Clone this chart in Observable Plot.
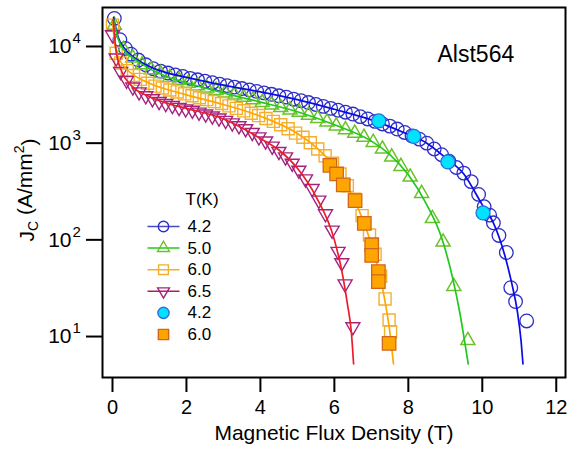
<!DOCTYPE html>
<html>
<head>
<meta charset="utf-8">
<script src="https://cdn.jsdelivr.net/npm/d3@7"></script>
<script src="https://cdn.jsdelivr.net/npm/@observablehq/plot@0.6"></script>
<style>
  html, body { margin: 0; padding: 0; background: white; }
  #chart { width: 567px; height: 449px; }
</style>
</head>
<body>
<div id="chart"></div>
<script>
// ---------- data (B in tesla, Jc in A/mm^2) ----------
// 4.2 K open circles
const b42 = [0.05,0.2,0.35,0.5,0.7,0.9,1.1,1.3,1.5,1.7,1.9,2.1,2.3,2.5,2.7,2.9,3.1,3.3,3.5,3.7,3.9,4.1,4.3,4.5,4.7,4.9,5.1,5.3,5.5,5.7,5.9,6.1,6.3,6.5,6.7,6.9,7.1,7.3,7.5,7.7,7.9,8.1,8.3,8.5,8.7,8.9,9.1,9.3,9.5,9.7,9.9,10.05,10.2,10.3,10.45,10.65,10.77,10.9,11.2];
const j42 = [19500,11750,9550,8320,7240,6460,5890,5560,5310,5070,4900,4680,4520,4370,4220,4070,3940,3800,3670,3550,3430,3310,3200,3090,2990,2850,2750,2630,2510,2400,2290,2190,2090,2000,1880,1780,1680,1580,1500,1400,1290,1190,1100,1000,870,760,650,560,490,400,295,220,180,150,111,74,32,23,14.5];
// 4.2 K fit line
const fb42 = [0.03,0.15,0.3,0.6,1.0,1.5,2,3,4,5,6,7,8,8.5,9,9.5,10,10.3,10.6,10.8,10.95,11.05,11.1];
const fj42 = [20000,12600,9800,7600,6200,5300,4800,3980,3390,2820,2240,1740,1230,1000,710,480,230,150,71,35,18,8.9,5.2];
// 4.2 K filled (cyan) circles
const cb42 = [7.2,8.15,9.07,10.02];
const cj42 = [1700,1175,640,190];

// 5.0 K open triangles
const b50 = [0.05,0.3,0.55,0.8,1.05,1.3,1.55,1.8,2.05,2.3,2.55,2.8,3.05,3.3,3.55,3.8,4.05,4.3,4.55,4.8,5.05,5.3,5.55,5.8,6.05,6.3,6.55,6.8,7.05,7.3,7.55,7.8,8.05,8.36,8.65,8.94,9.23,9.61];
const j50 = [16600,9330,7590,6460,5750,5250,4790,4470,4170,3940,3720,3510,3310,3160,2990,2820,2630,2480,2340,2210,2090,1950,1800,1660,1510,1380,1270,1150,1020,870,720,575,447,302,166,95,33,9.1];
// 5.0 K fit line
const fb50 = [0.03,0.15,0.3,0.6,1.0,1.5,2,3,4,5,6,7,7.5,8,8.5,8.9,9.2,9.4,9.52,9.62];
const fj50 = [19000,12000,9300,7400,5900,4840,4220,3310,2660,2110,1550,1050,760,470,230,105,40,17,9,5.2];

// 6.0 K open squares
const b60 = [0.0,0.1,0.22,0.4,0.57,0.75,0.95,1.15,1.35,1.55,1.75,1.95,2.15,2.35,2.55,2.75,2.95,3.15,3.35,3.55,3.75,3.95,4.15,4.35,4.55,4.75,4.95,5.15,5.35,5.55,5.75,5.95,6.15,6.35,6.55,6.75,6.95,7.1,7.25,7.37,7.48,7.52];
const j60 = [16600,8510,6760,5620,5010,4570,4170,3890,3720,3550,3390,3240,3090,2950,2820,2690,2570,2430,2290,2160,2040,1930,1800,1680,1550,1410,1270,1150,1010,870,740,620,480,363,263,178,112,71,42,24.5,14.8,11.2];
// 6.0 K fit line
const fb60 = [0.0,0.1,0.3,0.6,1,2,3,4,5,5.5,6,6.5,7,7.3,7.5,7.6];
const fj60 = [17800,8900,6300,5000,4170,3160,2510,1900,1260,910,575,280,89,32,11.2,5.2];
// 6.0 K filled squares
const sb60 = [5.88,6.06,6.24,6.56,6.81,7.01,7.01,7.19,7.19,7.48];
const sj60 = [590,480,370,255,148,89,69,47,37,8.5];

// 6.5 K open down-triangles
const b65 = [0.0,0.1,0.22,0.38,0.55,0.72,0.9,1.08,1.26,1.44,1.62,1.8,1.98,2.16,2.34,2.52,2.7,2.88,3.06,3.24,3.42,3.6,3.78,3.96,4.14,4.32,4.5,4.68,4.86,5.04,5.22,5.4,5.58,5.76,5.94,6.1,6.2,6.29,6.5];
const j65 = [13200,7590,5500,4470,3800,3390,3090,2880,2690,2570,2450,2340,2260,2190,2090,2000,1910,1820,1720,1620,1510,1410,1290,1160,1050,930,820,720,620,525,427,339,257,186,126,76,58,35,12.6];
// 6.5 K fit line
const fb65 = [0.02,0.1,0.25,0.5,1,1.5,2,3,4,4.5,5,5.5,6,6.2,6.35,6.46,6.52];
const fj65 = [19000,8900,5500,3980,3020,2570,2290,1780,1120,850,550,282,100,48,22,11,5.2];

// axes
const xTicks = [0,2,4,6,8,10,12];
const yTicks = [10,100,1000,10000];
const legendTitle = "T(K)";
const legendLabels = ["4.2","5.0","6.0","6.5","4.2","6.0"];
const sampleName = "Alst564";
const xLabel = "Magnetic Flux Density (T)";

// ---------- helpers ----------
const zip = (bs, js) => bs.map((b, i) => ({b, j: js[i]}));
const sqrt3 = Math.sqrt(3);
const triangleDown = {
  draw(ctx, size) {
    const y = -Math.sqrt(size / (sqrt3 * 3));
    ctx.moveTo(0, -y * 2);
    ctx.lineTo(-sqrt3 * y, y);
    ctx.lineTo(sqrt3 * y, y);
    ctx.closePath();
  }
};
const lineSym = { draw(ctx) { ctx.moveTo(-16, 0); ctx.lineTo(16, 0); } };

const C = {
  blueM: "#2e2ec8", blueL: "#0b0be8",
  greenM: "#6cc12a", greenL: "#22c81e",
  orangeM: "#f3b030", orangeL: "#ffa600",
  purpleM: "#a3237f", redL: "#ec1c28",
  cyan: "#00e2ff", cyanS: "#2a6fdc",
  fillO: "#ffa500", fillOS: "#d0661c"
};

const legendItems = [
  {sym: "circle", r: 5.2, stroke: C.blueM, fill: "none", line: "#4a4ac4"},
  {sym: "triangle", r: 4.4, stroke: C.greenM, fill: "none", line: C.greenL},
  {sym: "square", r: 5.5, stroke: C.orangeM, fill: "none", line: C.orangeM},
  {sym: triangleDown, r: 4.4, stroke: C.purpleM, fill: "none", line: "#b0205a"},
  {sym: "circle", r: 5.6, stroke: C.cyanS, fill: C.cyan, line: null},
  {sym: "square", r: 5.8, stroke: C.fillOS, fill: C.fillO, line: null}
];
const legendMarks = legendItems.flatMap((it, i) => {
  const dy = 219 + i * 21.6;
  const m = [];
  if (it.line) m.push(Plot.dot([0], {frameAnchor: "top-left", dx: 61, dy, symbol: lineSym, stroke: it.line, strokeWidth: 1.5}));
  m.push(Plot.dot([0], {frameAnchor: "top-left", dx: 61, dy, symbol: it.sym, r: it.r, stroke: it.stroke, fill: it.fill, strokeWidth: 1.4}));
  m.push(Plot.text([legendLabels[i]], {frameAnchor: "top-left", dx: 85, dy, text: d => d, textAnchor: "start", lineAnchor: "middle", fontSize: 17}));
  return m;
});

const plot = Plot.plot({
  width: 567,
  height: 449,
  marginLeft: 102,
  marginRight: 2,
  marginTop: 7,
  marginBottom: 72,
  style: {fontFamily: "'Liberation Sans', Arial, Helvetica, sans-serif", fontSize: "20px", color: "black", background: "white", overflow: "visible"},
  x: {domain: [-0.27, 12.25]},
  y: {type: "log", domain: [3.77, 25300]},
  marks: [
    // open markers
    Plot.dot(zip(b42, j42), {x: "b", y: "j", r: 6.8, stroke: C.blueM, strokeWidth: 1.3, symbol: "circle"}),
    Plot.dot(zip(b50, j50), {x: "b", y: "j", r: 5.2, stroke: C.greenM, strokeWidth: 1.5, symbol: "triangle"}),
    Plot.dot(zip(b60, j60), {x: "b", y: "j", r: 6.8, stroke: C.orangeM, strokeWidth: 1.4, symbol: "square"}),
    Plot.dot(zip(b65, j65), {x: "b", y: "j", r: 5.2, stroke: C.purpleM, strokeWidth: 1.4, symbol: triangleDown}),
    // fit lines
    Plot.line(zip(fb42, fj42), {x: "b", y: "j", stroke: C.blueL, strokeWidth: 1.7, curve: "monotone-x", clip: true}),
    Plot.line(zip(fb50, fj50), {x: "b", y: "j", stroke: C.greenL, strokeWidth: 1.7, curve: "monotone-x", clip: true}),
    Plot.line(zip(fb60, fj60), {x: "b", y: "j", stroke: C.orangeL, strokeWidth: 1.7, curve: "monotone-x", clip: true}),
    Plot.line(zip(fb65, fj65), {x: "b", y: "j", stroke: C.redL, strokeWidth: 1.7, curve: "monotone-x", clip: true}),
    // filled markers
    Plot.dot(zip(cb42, cj42), {x: "b", y: "j", r: 7, fill: C.cyan, stroke: C.cyanS, strokeWidth: 1.3, symbol: "circle"}),
    Plot.dot(zip(sb60, sj60), {x: "b", y: "j", r: 7.6, fill: C.fillO, stroke: C.fillOS, strokeWidth: 1.3, symbol: "square"}),
    // frame and axes
    Plot.frame({stroke: "black", strokeWidth: 2}),
    Plot.axisX(xTicks, {tickSize: 15, tickPadding: 7, strokeWidth: 2, fontSize: 20, label: null}),
    Plot.axisY(yTicks, {tickSize: 16, tickPadding: 15, strokeWidth: 2, fontSize: 21, tickFormat: () => "10", label: null}),
    Plot.text(yTicks, {y: d => d, frameAnchor: "left", dx: -30, dy: -8, text: d => String(Math.round(Math.log10(d))), textAnchor: "start", lineAnchor: "middle", fontSize: 15}),
    Plot.text([xLabel], {frameAnchor: "bottom", dy: 56, text: d => d, lineAnchor: "middle", fontSize: 21}),
    Plot.text([sampleName], {frameAnchor: "top-left", dx: 335, dy: 47, text: d => d, textAnchor: "start", lineAnchor: "middle", fontSize: 23}),
    Plot.text([legendTitle], {frameAnchor: "top-left", dx: 83, dy: 192, text: d => d, textAnchor: "start", lineAnchor: "middle", fontSize: 17}),
    ...legendMarks
  ]
});

// y-axis title with subscript / superscript
const svg = d3.select(plot);
const yl = svg.append("text")
  .attr("transform", "translate(34,190) rotate(-90)")
  .attr("text-anchor", "middle")
  .attr("font-size", 21)
  .attr("fill", "black");
yl.append("tspan").text("J");
yl.append("tspan").attr("font-size", 14).attr("dy", "0.3em").text("C");
yl.append("tspan").attr("dy", "-0.3em").text(" (A/mm");
yl.append("tspan").attr("font-size", 14).attr("dy", "-0.55em").text("2");
yl.append("tspan").attr("dy", "0.55em").text(")");

document.getElementById("chart").appendChild(plot);
</script>
</body>
</html>
